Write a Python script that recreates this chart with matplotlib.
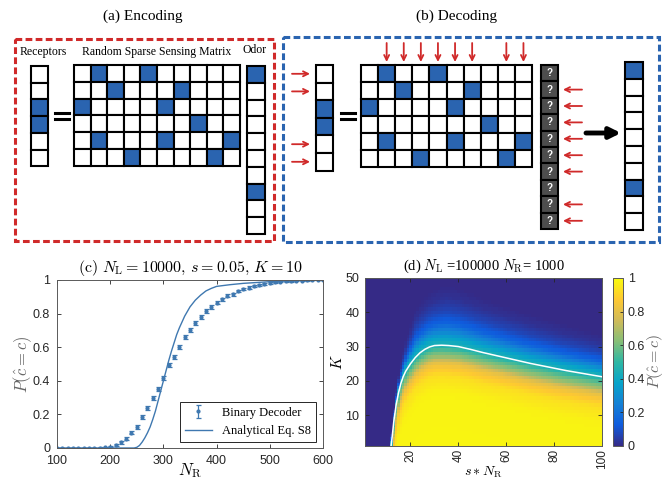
import numpy as np
import matplotlib
matplotlib.use('Agg')
import matplotlib.pyplot as plt
from matplotlib.patches import Rectangle
from matplotlib.colors import LinearSegmentedColormap

plt.rcParams['mathtext.fontset'] = 'cm'
plt.rcParams['font.family'] = ['Liberation Sans', 'DejaVu Sans']

# --- toy encoding / decoding example ---
receptors = [0, 0, 1, 1, 0, 0]
sensing = [[0, 1, 0, 0, 1, 0, 0, 0, 0, 0],
           [0, 0, 1, 0, 0, 0, 1, 0, 0, 0],
           [1, 0, 0, 0, 0, 1, 0, 0, 0, 0],
           [0, 0, 0, 0, 0, 0, 0, 1, 0, 0],
           [0, 1, 0, 0, 0, 1, 0, 0, 0, 1],
           [0, 0, 0, 1, 0, 0, 0, 0, 1, 0]]
odor = [1, 0, 0, 0, 0, 0, 0, 1, 0, 0]

# --- (c) success probability vs number of receptors ---
nr_points = list(range(100, 601, 10))
p_binary = [0, 0, 0, 0, 0, 0, 0, 0,
            0.001, 0.003, 0.008, 0.02, 0.033, 0.055, 0.09, 0.125, 0.185, 0.24,
            0.30, 0.35, 0.415, 0.495, 0.54, 0.60, 0.66, 0.70, 0.745, 0.78,
            0.815, 0.84, 0.865, 0.885, 0.905, 0.915, 0.935, 0.945, 0.955, 0.963,
            0.97, 0.977, 0.982, 0.986, 0.989, 0.992, 0.994, 0.996, 0.997, 0.998,
            0.999, 0.999, 1.0]
p_err = [0, 0, 0, 0, 0, 0, 0, 0,
         0.002, 0.003, 0.004, 0.006, 0.007, 0.008, 0.009, 0.010, 0.011, 0.011,
         0.012, 0.012, 0.012, 0.012, 0.012, 0.012, 0.012, 0.012, 0.011, 0.011,
         0.011, 0.010, 0.010, 0.009, 0.009, 0.008, 0.008, 0.007, 0.007, 0.006,
         0.005, 0.005, 0.004, 0.004, 0.003, 0.003, 0.003, 0.002, 0.002, 0.002,
         0.001, 0.001, 0.001]
nr_curve = [100, 245, 250, 255, 260, 265, 270, 275, 280, 285, 290, 295, 300,
            305, 310, 315, 320, 325, 330, 340, 350, 360, 370, 380, 390, 400,
            425, 450, 475, 500, 550, 600]
p_curve = [0, 0, 0.004, 0.015, 0.035, 0.06, 0.09, 0.125, 0.17, 0.22, 0.28,
           0.34, 0.40, 0.46, 0.52, 0.575, 0.625, 0.675, 0.715, 0.785, 0.84,
           0.88, 0.91, 0.935, 0.95, 0.962, 0.972, 0.98, 0.985, 0.99, 0.997, 1.0]

# --- (d) phase diagram in (s*N_R, K) ---
line_x = [11.9, 12.4, 13, 14, 15, 16, 17, 18, 20, 22, 24, 26, 28, 30, 33, 36,
          40, 45, 50, 55, 60, 65, 70, 75, 80, 85, 90, 95, 100]
line_k = [1, 4, 8, 13, 16.5, 19.3, 21.3, 22.8, 25, 26.8, 28.2, 29.2, 29.9,
          30.3, 30.4, 30.3, 30.0, 29.2, 28.3, 27.5, 26.7, 25.9, 25.1, 24.4,
          23.7, 23.0, 22.4, 21.8, 21.2]
# P along K, relative to the white line
prof_d = [-60, -14, -9, -6.5, -5, -3.5, -1.5, 0, 2, 3.5, 6.5, 10, 14, 18]
prof_p = [1.0, 0.98, 0.93, 0.86, 0.8, 0.67, 0.55, 0.45, 0.38, 0.3, 0.15,
          0.07, 0.02, 0]
# spread of the tail above the line
tail_x = [1, 12, 16, 22, 35, 60, 100]
tail_s = [0.2, 0.2, 0.35, 0.8, 1.0, 0.85, 0.7]

parula = LinearSegmentedColormap.from_list('parula', [
    (0.2081, 0.1663, 0.5292), (0.0592, 0.3599, 0.8684),
    (0.0780, 0.5041, 0.8385), (0.0232, 0.6419, 0.7914),
    (0.1802, 0.7178, 0.6425), (0.5301, 0.7492, 0.4662),
    (0.8186, 0.7328, 0.3499), (0.9956, 0.7862, 0.1968),
    (0.9763, 0.9831, 0.0538)])

BLUE = '#2a64b0'
RED = '#d02a2a'
LINE = '#3f78b0'

fig = plt.figure(figsize=(6.70, 4.83), dpi=100)

# ---------- top: schematic, drawn in pixel units ----------
sk = fig.add_axes([0, 0, 1, 1])
sk.set_xlim(0, 670)
sk.set_ylim(483, 0)
sk.axis('off')


def grid(x0, y0, w, h, cells, face=BLUE):
    for i, row in enumerate(cells):
        for j, v in enumerate(row):
            sk.add_patch(Rectangle((x0 + j * w, y0 + i * h), w, h,
                                   facecolor=face if v else 'white',
                                   edgecolor='black', lw=1.5))


def arrow(x1, y1, x2, y2, color=RED, lw=1.3, style='->', ms=9):
    sk.annotate('', xy=(x2, y2), xytext=(x1, y1),
                arrowprops=dict(arrowstyle=style, color=color, lw=lw,
                                mutation_scale=ms, shrinkA=0, shrinkB=0))


def equals(x, y):
    sk.plot([x - 7, x + 7], [y - 3, y - 3], color='black', lw=2.2)
    sk.plot([x - 7, x + 7], [y + 3, y + 3], color='black', lw=2.2)


serif = 'Liberation Serif'

# (a) encoding
sk.text(143, 16, '(a) Encoding', ha='center', va='center', family=serif, fontsize=11)
sk.add_patch(Rectangle((15, 39), 259, 202, fill=False, edgecolor=RED,
                       lw=2.2, linestyle=(0, (2.2, 1.1))))
sk.text(43, 52, 'Receptors', ha='center', va='center', family=serif, fontsize=8.5)
sk.text(157, 52, 'Random Sparse Sensing Matrix', ha='center', va='center',
        family=serif, fontsize=8.5)
sk.text(255, 50, 'Odor', ha='center', va='center', family=serif, fontsize=8.5)
grid(31, 66, 17, 16.7, [[r] for r in receptors])
equals(62, 116)
grid(74, 65, 16.6, 16.8, sensing)
grid(247, 66, 18, 16.8, [[o] for o in odor])

# (b) decoding
sk.text(457, 16, '(b) Decoding', ha='center', va='center', family=serif, fontsize=11)
sk.add_patch(Rectangle((283, 37), 376, 205, fill=False, edgecolor=BLUE,
                       lw=2.2, linestyle=(0, (2.2, 1.1))))
rh = 17.6
grid(316, 65, 17, rh, [[r] for r in receptors])
for i, r in enumerate(receptors):
    if r == 0:
        arrow(292, 65 + (i + 0.5) * rh, 310, 65 + (i + 0.5) * rh)
equals(348, 116)
cw = 17.1
grid(361, 65, cw, 17, sensing)
for j, o in enumerate(odor):
    if o == 0:
        arrow(361 + (j + 0.5) * cw, 43, 361 + (j + 0.5) * cw, 62)
qh = 16.4
grid(541, 65, 17, qh, [[1] for _ in odor], face='#4d4d4d')
for i, o in enumerate(odor):
    sk.text(549.5, 65 + (i + 0.5) * qh, '?', ha='center', va='center',
            color='white', fontsize=7, fontweight='bold')
    if o == 0:
        arrow(582, 65 + (i + 0.5) * qh, 563, 65 + (i + 0.5) * qh)
arrow(586, 133, 621, 133, color='black', lw=3.5, style='-|>', ms=16)
grid(625, 62, 18, 16.8, [[o] for o in odor])


def style_axes(ax):
    ax.tick_params(direction='in', top=True, right=True, labelsize=9,
                   colors='0.15', length=3, width=0.6, pad=4)
    for s in ax.spines.values():
        s.set_color('0.35')
        s.set_linewidth(0.7)


# ---------- (c) ----------
axc = fig.add_axes([57 / 670, 35 / 483, 266 / 670, 168 / 483])
axc.plot(nr_curve, p_curve, color=LINE, lw=1.0, label='Analytical Eq. S8')
axc.errorbar(nr_points, p_binary, yerr=p_err, fmt='.', color=LINE, ms=4,
             capsize=1.8, elinewidth=0.9, capthick=0.9, label='Binary Decoder')
axc.set_xlim(100, 600)
axc.set_ylim(0, 1)
axc.set_xticks(range(100, 601, 100))
axc.set_yticks([0, 0.2, 0.4, 0.6, 0.8, 1])
axc.set_yticklabels(['0', '0.2', '0.4', '0.6', '0.8', '1'])
style_axes(axc)
axc.tick_params(axis='x', pad=5)
axc.tick_params(axis='y', pad=5)
axc.set_title(r'$\mathrm{(c)}\ N_\mathrm{L}=10000,\, s=0.05,\, K=10$',
              fontsize=11.5, pad=6)
axc.set_xlabel(r'$N_\mathrm{R}$', fontsize=12, labelpad=-4)
axc.set_ylabel(r'$P(\hat{c}=c)$', fontsize=12, color='0.4', labelpad=-1)
h, l = axc.get_legend_handles_labels()
leg = axc.legend(h[::-1], l[::-1], loc='lower right',
                 bbox_to_anchor=(0.974, 0.036), borderaxespad=0,
                 fancybox=False, edgecolor='0.15', framealpha=1,
                 prop={'family': serif, 'size': 9}, handlelength=2.2)
leg.get_frame().set_linewidth(0.7)

# ---------- (d) ----------
xs = np.arange(1, 101)
ks = np.arange(1, 51)
kline = np.interp(xs, line_x, line_k, left=-200)
scale = np.interp(xs, tail_x, tail_s)
d = ks[:, None] - kline[None, :]
d = np.where(d > 0, d / scale[None, :], d)
field = np.interp(d, prof_d, prof_p)

axd = fig.add_axes([365 / 670, 37 / 483, 237 / 670, 168 / 483])
im = axd.imshow(field, cmap=parula, vmin=0, vmax=1, origin='lower',
                extent=[0.5, 100.5, 0.5, 50.5], aspect='auto',
                interpolation='nearest')
axd.plot(line_x, line_k, color='white', lw=1.1)
axd.set_xlim(1, 100)
axd.set_ylim(1, 50)
axd.set_xticks([20, 40, 60, 80, 100])
axd.set_yticks([10, 20, 30, 40, 50])
style_axes(axd)
axd.tick_params(axis='x', labelrotation=90, pad=2, labelsize=8.5)
axd.set_title(r'(d) $N_\mathrm{L}$ =100000 $N_\mathrm{R}$= 1000',
              family=serif, fontsize=10.5, pad=6)
axd.set_xlabel(r'$s * N_\mathrm{R}$', fontsize=10, labelpad=-3)
axd.set_ylabel(r'$K$', fontsize=11, labelpad=0)

cax = fig.add_axes([613 / 670, 37 / 483, 10 / 670, 168 / 483])
cb = fig.colorbar(im, cax=cax)
cb.set_ticks([0, 0.2, 0.4, 0.6, 0.8, 1])
cb.set_ticklabels(['0', '0.2', '0.4', '0.6', '0.8', '1'])
cb.ax.tick_params(direction='in', labelsize=9, colors='0.15', length=2, width=0.6)
cb.outline.set_edgecolor('0.35')
cb.outline.set_linewidth(0.7)
cb.set_label(r'$P(\hat{c}=c)$', fontsize=11.5, color='0.4', labelpad=0)

fig.savefig('out.png', dpi=100)
